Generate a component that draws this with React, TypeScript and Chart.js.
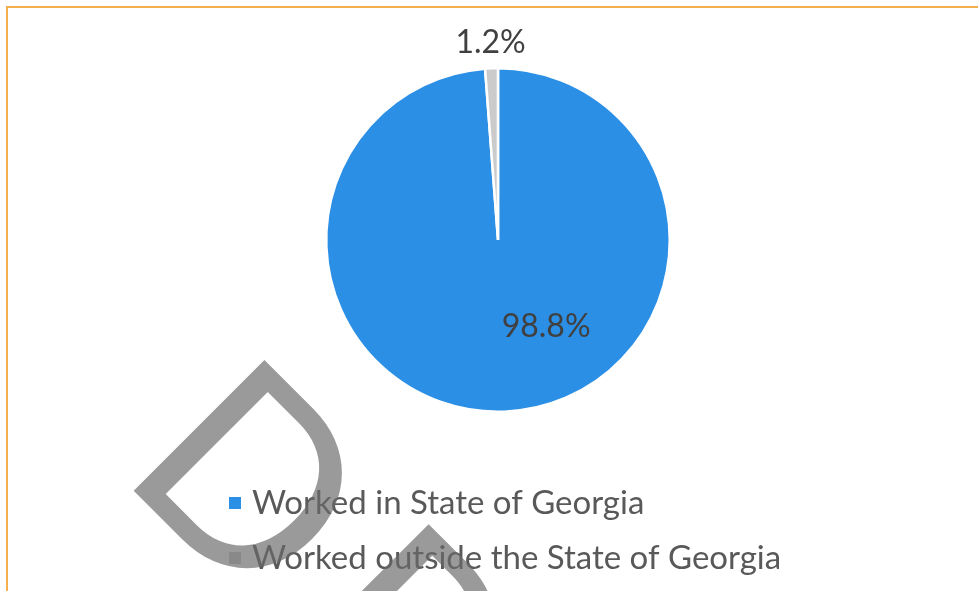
import React, { useEffect, useRef } from "react";
import { Chart, registerables } from "chart.js";

Chart.register(...registerables);

const categories = ["Worked in State of Georgia", "Worked outside the State of Georgia"];
const values = [98.8, 1.2];
const valueLabels = ["98.8%", "1.2%"];
const colors = ["#2B8FE6", "#CBCBCB"];
const watermarkText = "DRAFT";

const FONT = "Lato, 'Open Sans', sans-serif";

const labelPlugin = {
  id: "sliceLabels",
  afterDatasetsDraw(chart: any) {
    const meta = chart.getDatasetMeta(0);
    const ctx = chart.ctx;
    ctx.save();
    ctx.font = `32px ${FONT}`;
    ctx.fillStyle = "#404040";
    ctx.textAlign = "center";
    ctx.textBaseline = "middle";
    meta.data.forEach((arc: any, i: number) => {
      const { x, y, startAngle, endAngle, outerRadius } = arc.getProps(
        ["x", "y", "startAngle", "endAngle", "outerRadius"],
        true
      );
      const frac = (endAngle - startAngle) / (Math.PI * 2);
      let mid = (startAngle + endAngle) / 2;
      let r: number;
      if (frac > 0.1) {
        mid -= (27 * Math.PI) / 180;
        r = outerRadius * 0.575;
      } else {
        r = outerRadius + 26;
      }
      ctx.fillText(valueLabels[i], x + Math.cos(mid) * r, y + Math.sin(mid) * r);
    });
    ctx.restore();
  },
};

const legendPlugin = {
  id: "customLegend",
  afterDraw(chart: any) {
    const ctx = chart.ctx;
    const bottom = chart.chartArea.bottom;
    ctx.save();
    ctx.font = `33px ${FONT}`;
    ctx.textBaseline = "middle";
    ctx.textAlign = "left";
    categories.forEach((label, i) => {
      const cy = bottom + 90 + i * 55;
      ctx.fillStyle = colors[i];
      ctx.fillRect(229, cy - 6, 12, 12);
      ctx.fillStyle = "#595959";
      ctx.fillText(label, 252, cy);
    });
    // watermark
    ctx.translate(117, 474);
    ctx.rotate(Math.PI / 4);
    ctx.font = `258px ${FONT}`;
    ctx.textBaseline = "alphabetic";
    (ctx as any).letterSpacing = "36px";
    ctx.fillStyle = "rgba(106,106,106,0.68)";
    ctx.fillText(watermarkText, 0, 0);
    ctx.restore();
  },
};

export default function App() {
  const ref = useRef<HTMLCanvasElement | null>(null);
  useEffect(() => {
    if (!ref.current) return;
    const chart = new Chart(ref.current, {
      type: "pie",
      data: {
        labels: categories,
        datasets: [
          {
            data: values,
            backgroundColor: colors,
            borderColor: "#ffffff",
            borderWidth: 2.5,
          },
        ],
      },
      options: {
        responsive: false,
        maintainAspectRatio: false,
        animation: false,
        devicePixelRatio: 1,
        layout: { padding: { top: 67, bottom: 178, left: 325, right: 307 } },
        plugins: {
          legend: { display: false },
          tooltip: { enabled: false },
        },
      },
      plugins: [labelPlugin, legendPlugin],
    });
    return () => chart.destroy();
  }, []);
  return (
    <div
      style={{
        position: "absolute",
        left: 0,
        top: 0,
        width: 978,
        height: 591,
        overflow: "hidden",
        background: "#fff",
      }}
    >
      <canvas ref={ref} width={978} height={591} style={{ position: "absolute", left: 0, top: 0 }} />
      <div
        style={{
          position: "absolute",
          left: 6,
          top: 6,
          width: 1100,
          height: 1100,
          borderTop: "2px solid #F4B04F",
          borderLeft: "2px solid #F4B04F",
          pointerEvents: "none",
        }}
      />
    </div>
  );
}
